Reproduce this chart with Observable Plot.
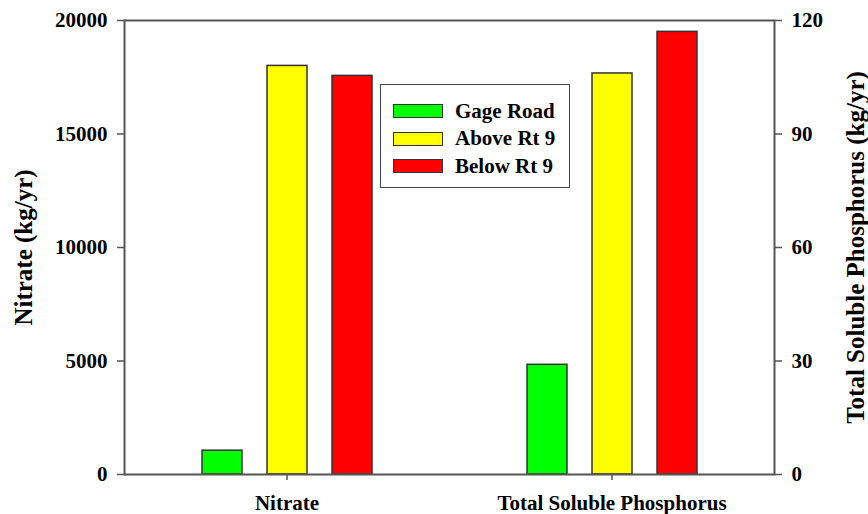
<!DOCTYPE html>
<html>
<head>
<meta charset="utf-8">
<script src="https://cdn.jsdelivr.net/npm/d3@7"></script>
<script src="https://cdn.jsdelivr.net/npm/@observablehq/plot@0.6"></script>
<style>
  html, body { margin: 0; padding: 0; background: white; }
  #wrap { position: relative; width: 868px; height: 514px; }
  #legend {
    position: absolute; left: 380px; top: 84px; width: 190px; height: 104px;
    border: 1.5px solid #444; box-sizing: border-box; background: white;
    font-family: "Liberation Serif", "Times New Roman", serif; font-weight: bold; font-size: 21px;
  }
  .item { position: absolute; left: 12px; height: 20px; display: flex; align-items: center; }
  .sw { width: 48px; height: 12px; border: 1.5px solid #333; margin-right: 12px; }
</style>
</head>
<body>
<div id="wrap"></div>
<script>
const categories = ["Nitrate", "Total Soluble Phosphorus"];
const series = ["Gage Road", "Above Rt 9", "Below Rt 9"];
const colors = ["#00ff00", "#ffff00", "#ff0000"];
const nitrate = [1050, 18000, 17560];      // kg/yr, left axis
const phosphorus = [29, 106, 117];         // kg/yr, right axis
const leftTicks = [0, 5000, 10000, 15000, 20000];
const rightTicks = [0, 30, 60, 90, 120];
const leftMax = 20000, rightMax = 120;

const k = leftMax / rightMax;
const rows = [
  ...series.map((s, i) => ({category: categories[0], series: s, y: nitrate[i]})),
  ...series.map((s, i) => ({category: categories[1], series: s, y: phosphorus[i] * k}))
];

const chart = Plot.plot({
  width: 868, height: 514,
  marginLeft: 123, marginRight: 94, marginTop: 20, marginBottom: 40,
  style: {fontFamily: "'Liberation Serif', 'Times New Roman', serif", fontWeight: "bold", fontSize: "21px", color: "#000", background: "white", overflow: "visible"},
  fx: {domain: categories, padding: 0, label: null},
  x: {domain: series, paddingInner: 0.385, paddingOuter: 1.19, axis: null},
  y: {domain: [0, leftMax]},
  color: {domain: series, range: colors},
  marks: [
    Plot.barY(rows, {fx: "category", x: "series", y: "y", fill: "series", stroke: "#333", strokeWidth: 1.5}),
    Plot.ruleY([0, leftMax], {stroke: "#555", strokeWidth: 2}),
    Plot.frame({anchor: "left", facetAnchor: "left", stroke: "#555", strokeWidth: 2}),
    Plot.frame({anchor: "right", facetAnchor: "right", stroke: "#555", strokeWidth: 2}),
    Plot.axisY(leftTicks, {anchor: "left", tickSize: 7, tickPadding: 10, stroke: "#555", strokeWidth: 1.5,
      tickFormat: d => String(d), label: null}),
    Plot.axisY(rightTicks.map(t => t * k), {anchor: "right", tickSize: 7, tickPadding: 10, stroke: "#555", strokeWidth: 1.5,
      tickFormat: d => String(Math.round(d * rightMax / leftMax)), label: null}),
    Plot.axisY({anchor: "left", ticks: [], tickSize: 0, label: "Nitrate (kg/yr)", labelAnchor: "center", labelArrow: "none",
      labelOffset: 110, fontSize: 25}),
    Plot.axisY({anchor: "right", ticks: [], tickSize: 0, label: "Total Soluble Phosphorus (kg/yr)", labelAnchor: "center", labelArrow: "none",
      labelOffset: 89, fontSize: 25}),
    Plot.axisFx({anchor: "bottom", tickSize: 6, tickPadding: 15, label: null, stroke: "#555", strokeWidth: 1.5})
  ]
});

const wrap = document.getElementById("wrap");
wrap.appendChild(chart);

const legend = document.createElement("div");
legend.id = "legend";
series.forEach((s, i) => {
  const item = document.createElement("div");
  item.className = "item";
  item.style.top = (16 + i * 27.5) + "px";
  const sw = document.createElement("div");
  sw.className = "sw";
  sw.style.background = colors[i];
  const label = document.createElement("span");
  label.textContent = s;
  item.appendChild(sw);
  item.appendChild(label);
  legend.appendChild(item);
});
wrap.appendChild(legend);
</script>
</body>
</html>
